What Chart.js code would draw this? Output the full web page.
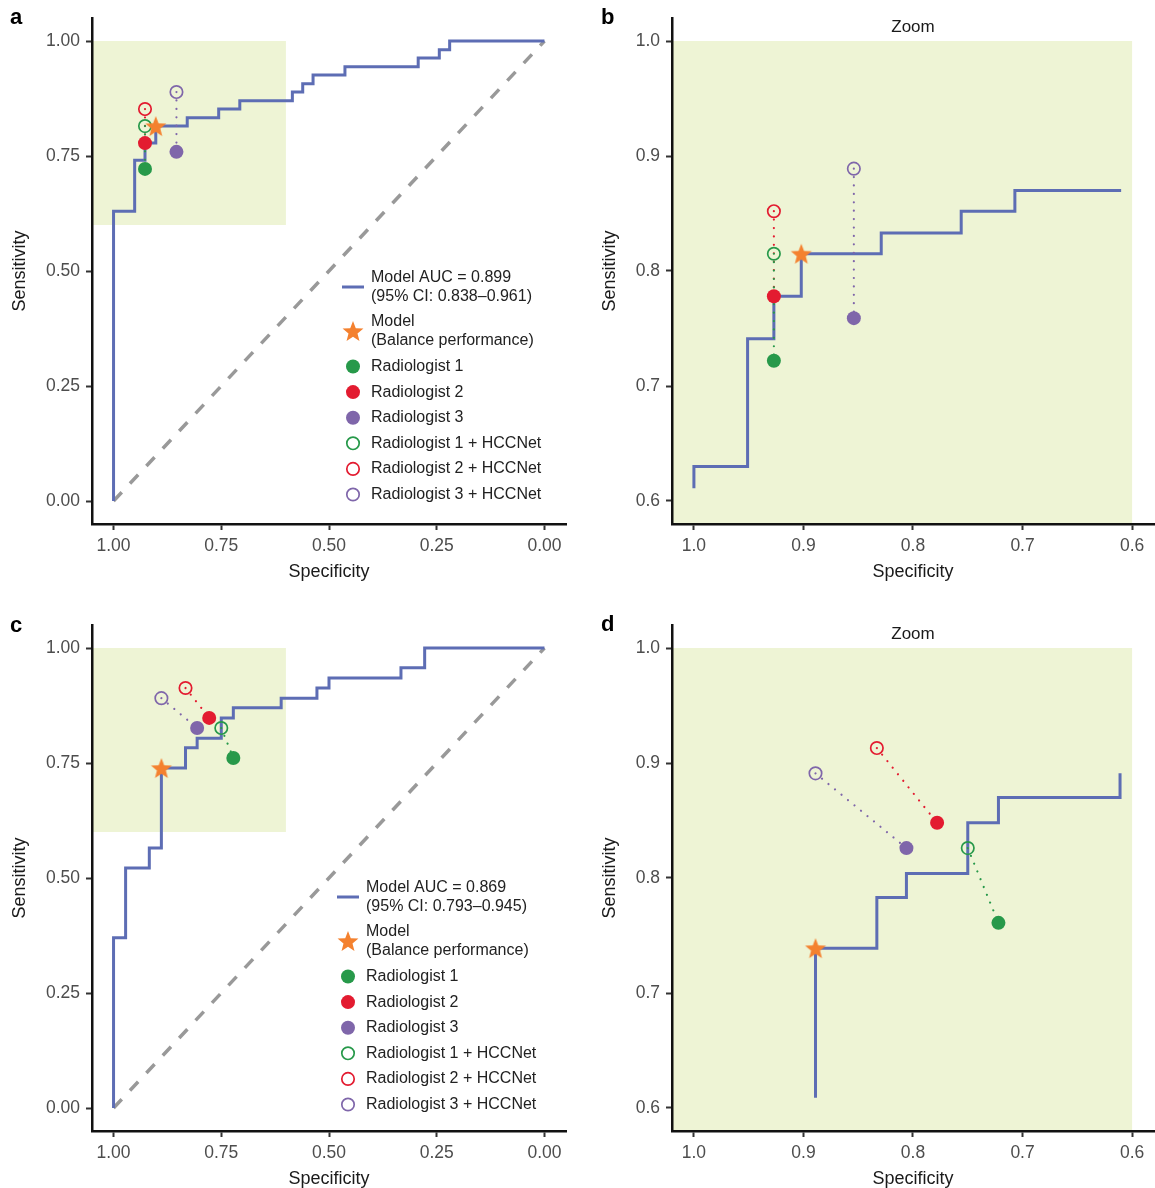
<!DOCTYPE html>
<html>
<head>
<meta charset="utf-8">
<script src="https://cdn.jsdelivr.net/npm/chart.js@4.4.1/dist/chart.umd.min.js"></script>
<style>
  body { margin: 0; background: #fff; }
  #page { position: relative; width: 1155px; height: 1188px; }
  canvas { position: absolute; }
</style>
</head>
<body>
<div id="page">
  <canvas id="panelA" width="578" height="600" style="left:0;top:0;width:578px;height:600px"></canvas>
  <canvas id="panelB" width="577" height="600" style="left:578px;top:0;width:577px;height:600px"></canvas>
  <canvas id="panelC" width="578" height="588" style="left:0;top:600px;width:578px;height:588px"></canvas>
  <canvas id="panelD" width="577" height="588" style="left:578px;top:600px;width:577px;height:588px"></canvas>
</div>
<script>
// ticks
const fullTicks = [1, 0.75, 0.5, 0.25, 0];
const fullTickLabels = ["1.00", "0.75", "0.50", "0.25", "0.00"];
const zoomTicks = [1, 0.9, 0.8, 0.7, 0.6];
const zoomTickLabels = ["1.0", "0.9", "0.8", "0.7", "0.6"];

// zoom window (specificity / sensitivity)
const zoomSpec = [0.6, 1.0];
const zoomSens = [0.6, 1.0];

const readers = ["Radiologist 1", "Radiologist 2", "Radiologist 3"];
const readerColors = ["#27994a", "#e31b30", "#7f66aa"];

// cohort 1 (panels a, b)
const rocSpec1 = [1, 1, 0.951, 0.927, 0.902, 0.829, 0.756, 0.707, 0.585, 0.561, 0.537, 0.463, 0.293, 0.244, 0.22, 0];
const rocSens1 = [0, 0.63, 0.741, 0.778, 0.815, 0.833, 0.852, 0.87, 0.889, 0.907, 0.926, 0.944, 0.963, 0.981, 1, 1];
const zoomRocSpec1 = [1, 1, 0.951, 0.927, 0.902, 0.829, 0.756, 0.707, 0.61];
const zoomRocSens1 = [0.611, 0.63, 0.741, 0.778, 0.815, 0.833, 0.852, 0.87, 0.87];
const readerSpec1 = [0.927, 0.927, 0.854];
const readerSens1 = [0.722, 0.778, 0.759];
const assistedSpec1 = [0.927, 0.927, 0.854];
const assistedSens1 = [0.815, 0.852, 0.889];
const modelSpec1 = 0.902;
const modelSens1 = 0.815;
const aucText1 = ["Model AUC = 0.899", "(95% CI: 0.838\u20130.961)"];

// cohort 2 (panels c, d)
const rocSpec2 = [1, 1, 0.972, 0.917, 0.889, 0.833, 0.806, 0.75, 0.722, 0.611, 0.528, 0.5, 0.333, 0.278, 0];
const rocSens2 = [0, 0.37, 0.522, 0.565, 0.739, 0.783, 0.804, 0.848, 0.87, 0.891, 0.913, 0.935, 0.957, 1, 1];
const zoomRocSpec2 = [0.889, 0.889, 0.833, 0.806, 0.75, 0.722, 0.611];
const zoomRocSens2 = [0.609, 0.739, 0.783, 0.804, 0.848, 0.87, 0.891];
const readerSpec2 = [0.722, 0.778, 0.806];
const readerSens2 = [0.761, 0.848, 0.826];
const assistedSpec2 = [0.75, 0.833, 0.889];
const assistedSens2 = [0.826, 0.913, 0.891];
const modelSpec2 = 0.889;
const modelSens2 = 0.739;
const aucText2 = ["Model AUC = 0.869", "(95% CI: 0.793\u20130.945)"];

const fam = "'Liberation Sans', Arial, Helvetica, sans-serif";
const rocColor = "#5d6db4";
const starColor = "#f4812f";
const boxColor = "#eef4d5";

function makeStar(r, color) {
  const c = document.createElement("canvas");
  const s = Math.ceil(r * 2 + 2);
  c.width = c.height = s;
  const g = c.getContext("2d");
  g.fillStyle = color;
  g.beginPath();
  for (let i = 0; i < 10; i++) {
    const rad = i % 2 ? r * 0.43 : r;
    const a = -Math.PI / 2 + (i * Math.PI) / 5;
    g.lineTo(s / 2 + rad * Math.cos(a), s / 2 + 1 + rad * Math.sin(a));
  }
  g.closePath();
  g.fill();
  return c;
}
const starImg = makeStar(11, starColor);

const pts = (xs, ys) => xs.map((v, i) => ({ x: v, y: ys[i] }));

function drawLegend(ctx, sx, sy, aucText) {
  const tx = sx + 18;
  ctx.textAlign = "left";
  ctx.textBaseline = "middle";
  ctx.font = "16px " + fam;
  ctx.fillStyle = "#222";
  // ROC line
  ctx.strokeStyle = rocColor;
  ctx.lineWidth = 3;
  ctx.beginPath();
  ctx.moveTo(sx - 11, sy);
  ctx.lineTo(sx + 11, sy);
  ctx.stroke();
  ctx.fillText(aucText[0], tx, sy - 9.5);
  ctx.fillText(aucText[1], tx, sy + 9.5);
  // model star
  ctx.drawImage(starImg, sx - starImg.width / 2, sy + 44 - starImg.height / 2);
  ctx.fillText("Model", tx, sy + 34.5);
  ctx.fillText("(Balance performance)", tx, sy + 53.5);
  // readers
  readers.forEach((name, i) => {
    const cy = sy + 79.5 + i * 25.6;
    ctx.fillStyle = readerColors[i];
    ctx.beginPath();
    ctx.arc(sx, cy, 7, 0, Math.PI * 2);
    ctx.fill();
    ctx.fillStyle = "#222";
    ctx.fillText(name, tx, cy);
  });
  readers.forEach((name, i) => {
    const cy = sy + 79.5 + (i + 3) * 25.6;
    ctx.strokeStyle = readerColors[i];
    ctx.lineWidth = 1.7;
    ctx.beginPath();
    ctx.arc(sx, cy, 6.2, 0, Math.PI * 2);
    ctx.stroke();
    ctx.fillText(name + " + HCCNet", tx, cy);
  });
}

const panelDecor = {
  id: "panelDecor",
  beforeDraw(chart, args, o) {
    const { ctx, chartArea: ca, scales: { x, y } } = chart;
    const xr = x.getPixelForValue(zoomSpec[0]);
    const yt = y.getPixelForValue(zoomSens[1]);
    const yb = o.zoomed ? ca.bottom : y.getPixelForValue(zoomSens[0]);
    ctx.save();
    ctx.fillStyle = boxColor;
    ctx.fillRect(ca.left, yt, xr - ca.left, yb - yt);
    ctx.restore();
  },
  afterDraw(chart, args, o) {
    const { ctx, chartArea: ca, scales: { x, y } } = chart;
    const t = o.ticks;
    ctx.save();
    ctx.fillStyle = "#000";
    ctx.font = "bold 22px " + fam;
    ctx.textAlign = "left";
    ctx.textBaseline = "middle";
    ctx.fillText(o.letter, o.letterX, o.letterY);

    ctx.fillStyle = "#1a1a1a";
    ctx.font = "18px " + fam;
    ctx.textAlign = "center";
    const midX = (x.getPixelForValue(t[0]) + x.getPixelForValue(t[4])) / 2;
    ctx.fillText("Specificity", midX, ca.bottom + 48);
    const midY = (y.getPixelForValue(t[0]) + y.getPixelForValue(t[4])) / 2;
    ctx.save();
    ctx.translate(o.titleX, midY);
    ctx.rotate(-Math.PI / 2);
    ctx.fillText("Sensitivity", 0, 0);
    ctx.restore();

    if (o.zoomed) {
      ctx.font = "17px " + fam;
      ctx.fillText("Zoom", (ca.left + ca.right) / 2, ca.top + 9);
    }
    if (o.legend) drawLegend(ctx, o.legend[0], o.legend[1], o.aucText);
    ctx.restore();
  },
};

function makePanel(id, p) {
  const ticks = p.zoomed ? zoomTicks : fullTicks;
  const labels = p.zoomed ? zoomTickLabels : fullTickLabels;
  const range = p.zoomed ? [0.58, 1.02] : [-0.05, 1.05];

  const axis = (isX) => ({
    type: "linear",
    reverse: isX,
    min: range[0],
    max: range[1],
    bounds: "data",
    afterBuildTicks: (s) => {
      s.ticks = ticks.map((v) => ({ value: v }));
    },
    afterFit: (s) => {
      if (isX) s.height = p.xHeight;
      else s.width = p.yWidth;
      s.paddingLeft = s.paddingRight = s.paddingTop = s.paddingBottom = 0;
    },
    ticks: {
      callback: (v, i) => labels[i],
      color: "#4d4d4d",
      font: { family: fam, size: 17.5 },
      padding: 6,
      maxRotation: 0,
      autoSkip: false,
    },
    grid: {
      drawOnChartArea: false,
      drawTicks: true,
      tickLength: 6,
      tickWidth: 2,
      tickColor: "#333",
    },
    border: { display: true, color: "#111", width: 2.5 },
  });

  const datasets = [
    {
      data: [{ x: p.modelSpec, y: p.modelSens }],
      pointStyle: starImg,
      pointRadius: 11,
    },
    {
      data: pts(p.assistedSpec, p.assistedSens),
      pointStyle: "circle",
      pointRadius: 6.2,
      pointBorderWidth: 1.7,
      pointBorderColor: readerColors,
      pointBackgroundColor: "rgba(0,0,0,0)",
    },
    {
      data: pts(p.readerSpec, p.readerSens),
      pointStyle: "circle",
      pointRadius: 7,
      pointBorderWidth: 0,
      pointBackgroundColor: readerColors,
    },
  ];
  readers.forEach((r, i) => {
    datasets.push({
      type: "line",
      data: [
        { x: p.assistedSpec[i], y: p.assistedSens[i] },
        { x: p.readerSpec[i], y: p.readerSens[i] },
      ],
      borderColor: readerColors[i],
      borderWidth: 2.2,
      borderDash: [0.01, 8.4],
      borderCapStyle: "round",
      pointRadius: 0,
      fill: false,
    });
  });
  datasets.push({
    type: "line",
    data: pts(p.rocSpec, p.rocSens),
    stepped: true,
    borderColor: rocColor,
    borderWidth: 3,
    pointRadius: 0,
    fill: false,
  });
  if (!p.zoomed) {
    datasets.push({
      type: "line",
      data: [{ x: 1, y: 0 }, { x: 0, y: 1 }],
      borderColor: "#999999",
      borderWidth: 3.5,
      borderDash: [12, 12],
      pointRadius: 0,
      fill: false,
    });
  }

  return new Chart(document.getElementById(id), {
    type: "scatter",
    data: { datasets },
    options: {
      responsive: false,
      animation: false,
      devicePixelRatio: 1,
      layout: { padding: p.padding, autoPadding: false },
      scales: { x: axis(true), y: axis(false) },
      plugins: {
        legend: { display: false },
        tooltip: { enabled: false },
        panelDecor: {
          zoomed: p.zoomed,
          ticks,
          letter: p.letter,
          letterX: p.letterX,
          letterY: p.letterY,
          titleX: p.titleX,
          legend: p.legend,
          aucText: p.aucText,
        },
      },
    },
    plugins: [panelDecor],
  });
}

makePanel("panelA", {
  zoomed: false, letter: "a", letterX: 10, letterY: 18, titleX: 20,
  padding: { left: 0, top: 18, right: 12, bottom: 0 }, yWidth: 92, xHeight: 76,
  rocSpec: rocSpec1, rocSens: rocSens1,
  readerSpec: readerSpec1, readerSens: readerSens1,
  assistedSpec: assistedSpec1, assistedSens: assistedSens1,
  modelSpec: modelSpec1, modelSens: modelSens1,
  legend: [353, 287], aucText: aucText1,
});
makePanel("panelB", {
  zoomed: true, letter: "b", letterX: 23, letterY: 18, titleX: 32,
  padding: { left: 0, top: 18, right: 1, bottom: 0 }, yWidth: 94, xHeight: 76,
  rocSpec: zoomRocSpec1, rocSens: zoomRocSens1,
  readerSpec: readerSpec1, readerSens: readerSens1,
  assistedSpec: assistedSpec1, assistedSens: assistedSens1,
  modelSpec: modelSpec1, modelSens: modelSens1,
});
makePanel("panelC", {
  zoomed: false, letter: "c", letterX: 10, letterY: 26, titleX: 20,
  padding: { left: 0, top: 25, right: 12, bottom: 0 }, yWidth: 92, xHeight: 57,
  rocSpec: rocSpec2, rocSens: rocSens2,
  readerSpec: readerSpec2, readerSens: readerSens2,
  assistedSpec: assistedSpec2, assistedSens: assistedSens2,
  modelSpec: modelSpec2, modelSens: modelSens2,
  legend: [348, 297], aucText: aucText2,
});
makePanel("panelD", {
  zoomed: true, letter: "d", letterX: 23, letterY: 25, titleX: 32,
  padding: { left: 0, top: 25, right: 1, bottom: 0 }, yWidth: 94, xHeight: 57,
  rocSpec: zoomRocSpec2, rocSens: zoomRocSens2,
  readerSpec: readerSpec2, readerSens: readerSens2,
  assistedSpec: assistedSpec2, assistedSens: assistedSens2,
  modelSpec: modelSpec2, modelSens: modelSens2,
});
</script>
</body>
</html>
